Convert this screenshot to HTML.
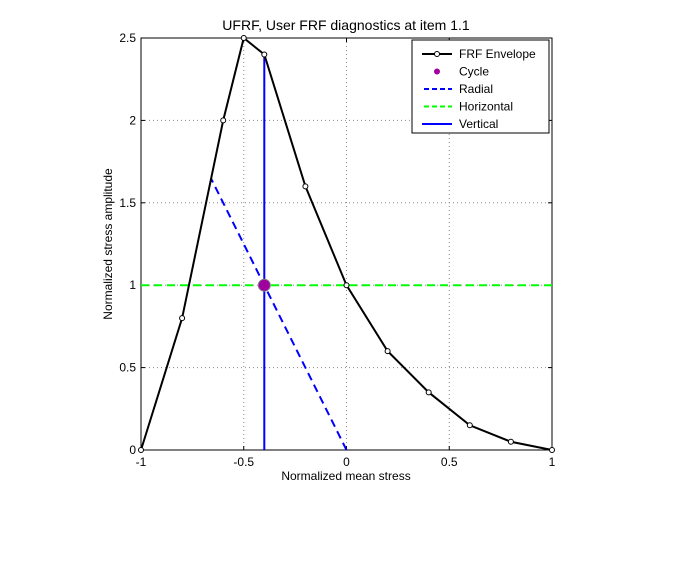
<!DOCTYPE html>
<html><head><meta charset="utf-8"><style>
body{margin:0;background:#fff;}
svg{display:block;font-family:"Liberation Sans",Arial,sans-serif;}
</style></head><body>
<svg id="chart" width="673" height="578"></svg>
<script>
const envX=[-1,-0.8,-0.6,-0.5,-0.4,-0.2,0,0.2,0.4,0.6,0.8,1];
const envY=[0,0.8,2,2.5,2.4,1.6,1,0.6,0.35,0.15,0.05,0];
const cycleX=[-0.4];
const cycleY=[1];
const radialX=[0,-0.659];
const radialY=[0,1.647];
const horizX=[-1,1];
const horizY=[1,1];
const vertX=[-0.4,-0.4];
const vertY=[0,2.4];
const xTicks=[-1,-0.5,0,0.5,1];
const xTickLabels=["-1","-0.5","0","0.5","1"];
const yTicks=[0,0.5,1,1.5,2,2.5];
const yTickLabels=["0","0.5","1","1.5","2","2.5"];

const L=141,R=552,T=38,B=450;
const sx=v=>L+(v+1)/2*(R-L);
const sy=v=>B-v/2.5*(B-T);
const NS="http://www.w3.org/2000/svg";
const svg=document.getElementById('chart');
function mk(tag,attrs,parent){const e=document.createElementNS(NS,tag);for(const k in attrs)e.setAttribute(k,attrs[k]);(parent||svg).appendChild(e);return e;}

// axes box
let box=mk('rect',{x:L,y:T,width:R-L,height:B-T,fill:'#fff',stroke:'none'});


// grid
xTicks.forEach((t,i)=>{
  if(i>0&&i<xTicks.length-1){let g=mk('line',{x1:sx(t),x2:sx(t),y1:T,y2:B,stroke:'#888','stroke-width':1,'stroke-dasharray':'1,3'});
  
  }
  let tk=mk('line',{x1:sx(t),x2:sx(t),y1:B,y2:B-4,stroke:'#000'});
  
  
  let tk2=mk('line',{x1:sx(t),x2:sx(t),y1:T,y2:T+4,stroke:'#000'});
  
  
  let tx=mk('text',{x:sx(t),y:B+16,'text-anchor':'middle','font-size':12});
  tx.textContent=xTickLabels[i];
  
  
});
yTicks.forEach((t,i)=>{
  if(i>0&&i<yTicks.length-1){let g=mk('line',{x1:L,x2:R,y1:sy(t),y2:sy(t),stroke:'#888','stroke-width':1,'stroke-dasharray':'1,3'});
  
  }
  let tk=mk('line',{x1:L,x2:L+4,y1:sy(t),y2:sy(t),stroke:'#000'});
  
  
  let tk2=mk('line',{x1:R,x2:R-4,y1:sy(t),y2:sy(t),stroke:'#000'});
  
  
  let tx=mk('text',{x:L-5,y:sy(t)+4,'text-anchor':'end','font-size':12});
  tx.textContent=yTickLabels[i];
  
  
});
let frame=mk('rect',{x:L,y:T,width:R-L,height:B-T,fill:'none',stroke:'#000','stroke-width':1});



function pts(xs,ys){return xs.map((x,i)=>sx(x)+','+sy(ys[i])).join(' ');}
let vl=mk('polyline',{points:pts(vertX,vertY),fill:'none',stroke:'#0000ff','stroke-width':2});


let hl=mk('polyline',{points:pts(horizX,horizY),fill:'none',stroke:'#00ff00','stroke-width':2,'stroke-dasharray':'8,5'});


let rl=mk('polyline',{points:pts(radialX,radialY),fill:'none',stroke:'#0000ff','stroke-width':2,'stroke-dasharray':'8,5'});


let env=mk('polyline',{points:pts(envX,envY),fill:'none',stroke:'#000','stroke-width':2});


envX.forEach((x,i)=>{
  let c=mk('circle',{cx:sx(x),cy:sy(envY[i]),r:2.5,fill:'#fff',stroke:'#000','stroke-width':1});
  
  
});
cycleX.forEach((x,i)=>{
  let c=mk('circle',{cx:sx(x),cy:sy(cycleY[i]),r:6,fill:'#a000a0',stroke:'#808080','stroke-width':1});
  
  
});

// title and labels
let ti=mk('text',{x:346,y:30,'text-anchor':'middle','font-size':14});
ti.textContent='UFRF, User FRF diagnostics at item 1.1';


let xl=mk('text',{x:346,y:480,'text-anchor':'middle','font-size':12});
xl.textContent='Normalized mean stress';


let yl=mk('text',{x:112,y:244,'text-anchor':'middle','font-size':12,transform:'rotate(-90 112 244)'});
yl.textContent='Normalized stress amplitude';



// legend
const lg=mk('g',{});


mk('rect',{x:412,y:40,width:137,height:93,fill:'#fff',stroke:'#000'},lg);
const items=[['FRF Envelope','env'],['Cycle','cyc'],['Radial','rad'],['Horizontal','hor'],['Vertical','ver']];
items.forEach((it,i)=>{
  const y=54+i*17.5;
  const g=mk('g',{},lg);
  
  
  if(it[1]==='env'){mk('line',{x1:422,x2:452,y1:y,y2:y,stroke:'#000','stroke-width':2},g);mk('circle',{cx:437,cy:y,r:2.5,fill:'#fff',stroke:'#000'},g);}
  if(it[1]==='cyc'){mk('circle',{cx:437,cy:y,r:3,fill:'#a000a0'},g);}
  if(it[1]==='rad'){mk('line',{x1:424,x2:452,y1:y,y2:y,stroke:'#0000ff','stroke-width':2,'stroke-dasharray':'5,3'},g);}
  if(it[1]==='hor'){mk('line',{x1:424,x2:452,y1:y,y2:y,stroke:'#00ff00','stroke-width':2,'stroke-dasharray':'5,3'},g);}
  if(it[1]==='ver'){mk('line',{x1:422,x2:452,y1:y,y2:y,stroke:'#0000ff','stroke-width':2},g);}
  const t=mk('text',{x:459,y:y+4,'font-size':12},g);
  t.textContent=it[0];
});
</script>
</body></html>
